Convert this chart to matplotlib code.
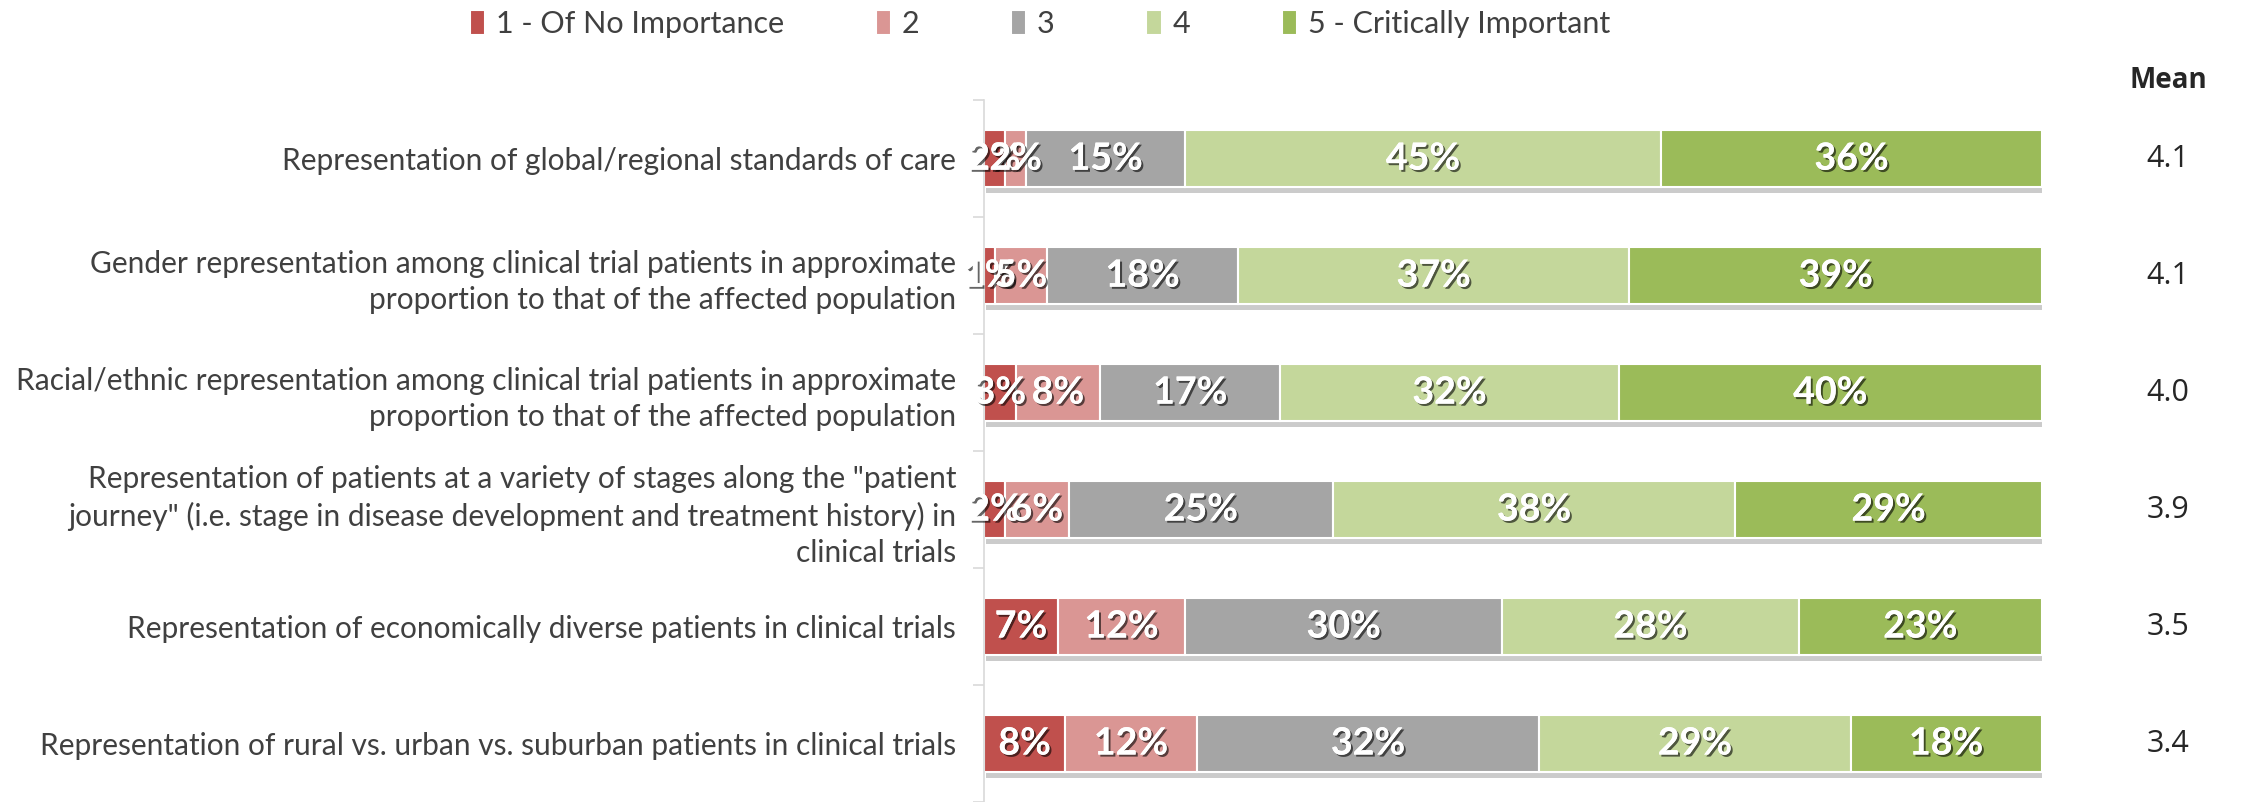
import matplotlib.pyplot as plt
import matplotlib.patheffects as pe
import matplotlib.transforms as mtransforms
import numpy as np

# categories (top to bottom)
categories = [
    'Representation of global/regional standards of care',
    'Gender representation among clinical trial patients in approximate\nproportion to that of the affected population',
    'Racial/ethnic representation among clinical trial patients in approximate\nproportion to that of the affected population',
    'Representation of patients at a variety of stages along the "patient\njourney" (i.e. stage in disease development and treatment history) in\nclinical trials',
    'Representation of economically diverse patients in clinical trials',
    'Representation of rural vs. urban vs. suburban patients in clinical trials',
]

# share of respondents per rating (%)
of_no_importance = [2, 1, 3, 2, 7, 7.7]
rating_2 = [2, 5, 8, 6, 12, 12.4]
rating_3 = [15, 18, 17, 25, 30, 32.4]
rating_4 = [45, 37, 32, 38, 28, 29.4]
critically_important = [36, 39, 40, 29, 23, 18.1]

means = [4.1, 4.1, 4.0, 3.9, 3.5, 3.4]

series_names = ['1 - Of No Importance', '2', '3', '4', '5 - Critically Important']
colors = ['#C0504D', '#DA9694', '#A5A5A5', '#C4D79B', '#9BBB59']

series = [of_no_importance, rating_2, rating_3, rating_4, critically_important]

fig = plt.figure(figsize=(22.42, 8.02), dpi=100)
ax = fig.add_axes([984 / 2242, 0.0, 1058 / 2242, 0.875])

y = np.arange(len(categories))
left = np.zeros(len(categories))
bar_shadow = [pe.withSimplePatchShadow(offset=(1.5, -4), shadow_rgbFace='#7f7f7f', alpha=0.4)]
label_shadow = [pe.withSimplePatchShadow(offset=(1.5, -1.5), shadow_rgbFace='black', alpha=0.6), pe.Normal()]

for vals, name, col in zip(series, series_names, colors):
    vals = np.array(vals, dtype=float)
    bars = ax.barh(y, vals, left=left, height=0.49, color=col, edgecolor='white',
                   linewidth=1.5, label=name)
    for b in bars:
        b.set_path_effects(bar_shadow)
    for yi, l, v in zip(y, left, vals):
        ax.text(l + v / 2, yi, f'{round(v):.0f}%', ha='center', va='center',
                color='white', fontsize=27, fontweight='bold', family='Lato',
                path_effects=label_shadow)
    left += vals

ax.set_xlim(0, 100)
ax.set_ylim(len(categories) - 0.5, -0.5)

# category labels
ax.set_yticks(y)
ax.set_yticklabels(categories, fontsize=21.5, family='Lato', color='#404040',
                   linespacing=1.35)
ax.tick_params(axis='y', which='major', length=0, pad=20)
ax.set_yticks(np.arange(len(categories) + 1) - 0.5, minor=True)
ax.tick_params(axis='y', which='minor', length=8, color='#D9D9D9', width=1.2)
ax.set_xticks([])

for s in ['top', 'right', 'bottom']:
    ax.spines[s].set_visible(False)
ax.spines['left'].set_color('#D9D9D9')
ax.spines['left'].set_linewidth(1.2)

# mean column
mean_x = 2168 / 2242
fig.text(mean_x, 1 - 80 / 802, 'Mean', ha='center', va='center',
         fontsize=20, fontweight='bold', family='Open Sans', color='#262626')
trans = mtransforms.blended_transform_factory(fig.transFigure, ax.transData)
for yi, m in zip(y, means):
    ax.text(mean_x, yi, f'{m:.1f}', ha='center', va='center', fontsize=22,
            family='Open Sans', color='#262626', transform=trans)

# legend
leg = ax.legend(loc='center', bbox_to_anchor=(1040 / 2242, 1 - 24 / 802),
                bbox_transform=fig.transFigure, ncol=5, frameon=False,
                prop={'family': 'Lato', 'size': 22}, labelcolor='#404040',
                handlelength=0.5, handleheight=0.9, handletextpad=0.35,
                columnspacing=3.0)
for h in leg.legend_handles:
    h.set_path_effects([])

fig.savefig('out.png', dpi=100)
